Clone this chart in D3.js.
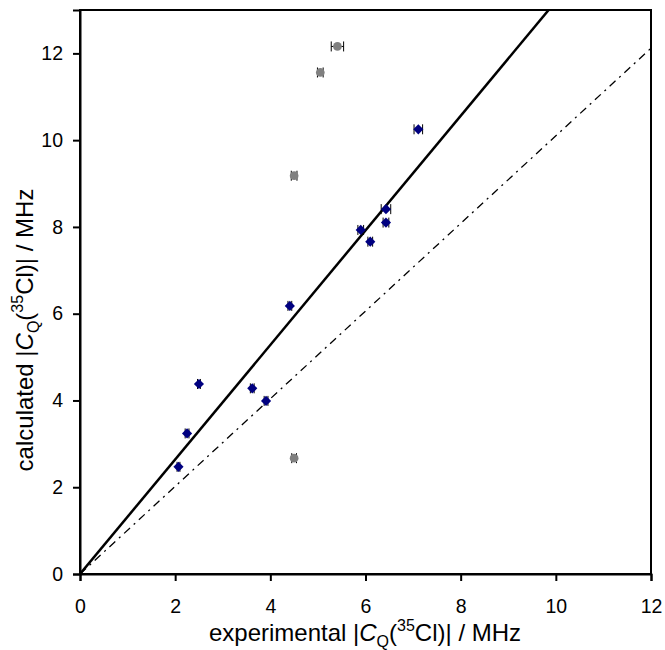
<!DOCTYPE html>
<html>
<head>
<meta charset="utf-8">
<script src="https://cdn.jsdelivr.net/npm/d3@7"></script>
<style>
  body { margin: 0; background: #fff; }
  text { font-family: "Liberation Sans", Arial, sans-serif; }
</style>
</head>
<body>
<div id="chart"></div>
<script>
// experimental vs calculated |CQ(35Cl)| / MHz
const blueX = [2.07, 2.25, 2.50, 3.62, 3.91, 4.41, 5.90, 6.10, 6.43, 6.43, 7.11];
const blueY = [2.47, 3.24, 4.38, 4.28, 3.99, 6.18, 7.93, 7.66, 8.10, 8.41, 10.25];
const blueErr = [0.03, 0.04, 0.03, 0.04, 0.04, 0.04, 0.06, 0.05, 0.06, 0.10, 0.09];

const greyX = [4.50, 4.50, 5.05, 5.41];
const greyY = [2.67, 9.18, 11.56, 12.16];
const greyErr = [0.05, 0.06, 0.06, 0.13];

const xTicks = [0, 2, 4, 6, 8, 10, 12];
const yTicks = [0, 2, 4, 6, 8, 10, 12];

// fitted line and the y = x reference line
const fitSlope = 1.32;
const refSlope = 1.01;

const width = 665, height = 650;
const margin = { top: 10, right: 14, bottom: 76, left: 80 };

const svg = d3.select("#chart").append("svg")
  .attr("width", width)
  .attr("height", height);

const x = d3.scaleLinear().domain([0, 12]).range([margin.left, width - margin.right]);
const y = d3.scaleLinear().domain([0, 13]).range([height - margin.bottom, margin.top]);

//clip for the lines
svg.append("clipPath").attr("id", "clip")
  .append("rect")
  .attr("x", x(0)).attr("y", y(13))
  .attr("width", x(12) - x(0)).attr("height", y(0) - y(13));

const lines = svg.append("g").attr("clip-path", "url(#clip)");

lines.append("line")
  .attr("x1", x(0)).attr("y1", y(0))
  .attr("x2", x(12)).attr("y2", y(12 * fitSlope))
  .attr("stroke", "#000")
  .attr("stroke-width", 2.5);

lines.append("line")
  .attr("x1", x(0)).attr("y1", y(0))
  .attr("x2", x(12)).attr("y2", y(12 * refSlope))
  .attr("stroke", "#000")
  .attr("stroke-width", 1.3)
  .attr("stroke-dasharray", "8,5,2,5");

//frame
svg.append("rect")
  .attr("x", x(0)).attr("y", y(13))
  .attr("width", x(12) - x(0)).attr("height", y(0) - y(13))
  .attr("fill", "none")
  .attr("stroke", "#000")
  .attr("stroke-width", 2);

//Axes
const xAxis = svg.append("g")
  .attr("transform", "translate(0," + y(0) + ")")
  .call(d3.axisBottom(x).tickValues(xTicks).tickSize(7).tickPadding(18).tickFormat(d3.format("d")));
const yAxis = svg.append("g")
  .attr("transform", "translate(" + x(0) + ",0)")
  .call(d3.axisLeft(y).tickValues(yTicks).tickSize(7).tickPadding(10).tickFormat(d3.format("d")));

[xAxis, yAxis].forEach(function (a) {
  a.select(".domain").attr("stroke-width", 2);
  a.selectAll(".tick line").attr("stroke-width", 2);
  a.selectAll(".tick text").style("font-size", "19.5px").attr("fill", "#000");
});

//error bars + markers
function drawSeries(xs, ys, errs, kind, color) {
  const g = svg.append("g");
  xs.forEach(function (xv, i) {
    const cy = y(ys[i]);
    const x0 = x(xv - errs[i]), x1 = x(xv + errs[i]);
    g.append("line").attr("x1", x0).attr("x2", x1).attr("y1", cy).attr("y2", cy)
      .attr("stroke", "#000").attr("stroke-width", 1);
    [x0, x1].forEach(function (cx) {
      g.append("line").attr("x1", cx).attr("x2", cx).attr("y1", cy - 5).attr("y2", cy + 5)
        .attr("stroke", "#000").attr("stroke-width", 1);
    });
  });
  g.selectAll("path.m")
    .data(xs.map((xv, i) => [xv, ys[i]]))
    .enter()
    .append("path")
    .attr("transform", d => "translate(" + x(d[0]) + "," + y(d[1]) + ")")
    .attr("d", kind == "diamond"
      ? d3.symbol().type(d3.symbolDiamond2).size(66)()
      : d3.symbol().type(d3.symbolCircle).size(60)())
    .attr("fill", color);
}

drawSeries(greyX, greyY, greyErr, "circle", "#808080");
drawSeries(blueX, blueY, blueErr, "diamond", "#000080");

//Axis titles
function title(sel, label) {
  sel.append("tspan").text(label + " |");
  sel.append("tspan").style("font-style", "italic").text("C");
  sel.append("tspan").attr("dy", 6).style("font-size", "16px").text("Q");
  sel.append("tspan").attr("dy", -6).text("(");
  sel.append("tspan").attr("dy", -10).style("font-size", "16px").text("35");
  sel.append("tspan").attr("dy", 10).text("Cl)| / MHz");
}

const xt = svg.append("text")
  .attr("x", 365)
  .attr("y", 641)
  .attr("text-anchor", "middle")
  .style("font-size", "24px");
title(xt, "experimental");

const yt = svg.append("text")
  .attr("transform", "translate(33,330) rotate(-90)")
  .attr("text-anchor", "middle")
  .style("font-size", "24px");
title(yt, "calculated");
</script>
</body>
</html>
